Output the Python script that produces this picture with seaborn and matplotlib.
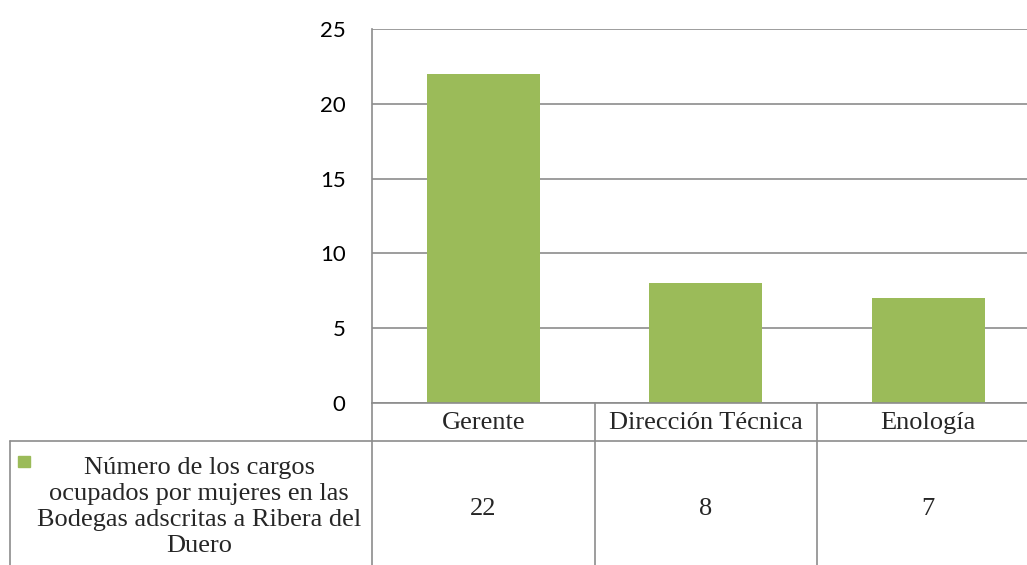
import matplotlib
matplotlib.use("Agg")
import matplotlib.pyplot as plt
import seaborn as sns
import pandas as pd
from matplotlib.patches import Rectangle

categories = ["Gerente", "Dirección Técnica", "Enología"]
values = [22, 8, 7]
series_name = "Número de los cargos\nocupados por mujeres en las\nBodegas adscritas a Ribera del\nDuero"
y_ticks = [0, 5, 10, 15, 20, 25]

bar_color = "#9BBB59"
line_color = "#8C8C8C"
serif = ["Liberation Serif", "DejaVu Serif"]

df = pd.DataFrame({"cargo": categories, "n": values})

sns.set_style("white")
plt.rcParams["font.family"] = ["Lato", "DejaVu Sans"]

fig = plt.figure(figsize=(10.27, 5.65), dpi=100)
ax = fig.add_axes([372 / 1027, 162 / 565, 667.5 / 1027, 374 / 565])

sns.barplot(data=df, x="cargo", y="n", color=bar_color, saturation=1,
            width=0.51, linewidth=0, ax=ax, zorder=3)

ax.set_ylim(0, 25)
ax.set_xlim(-0.5, len(categories) - 0.5)
ax.set_yticks(y_ticks)
ax.set_xticks([])
ax.set_xlabel("")
ax.set_ylabel("")
ax.tick_params(axis="y", length=0, pad=19, labelsize=16, labelcolor="#000000")
ax.grid(axis="y", color=line_color, linewidth=1.2, zorder=0)
for side in ["top", "right", "bottom"]:
    ax.spines[side].set_visible(False)
ax.spines["left"].set_color(line_color)
ax.spines["left"].set_linewidth(1.2)

# data table below the axis
px = 1 / 374.0
row1 = -38 * px
bottom = -170 * px
tr = ax.get_xaxis_transform()
lw = 1.2
fs = 19

# header row top (axis line at 0) and row separator
ax.plot([-0.5, len(categories) - 0.5], [0, 0], transform=tr, color=line_color,
        lw=lw, clip_on=False, zorder=4)
xl = -0.5 - 362 / 222.5
ax.plot([xl, len(categories) - 0.5], [row1, row1], transform=tr,
        color=line_color, lw=lw, clip_on=False)
# vertical column lines
for xb in [i - 0.5 for i in range(len(categories) + 1)]:
    ax.plot([xb, xb], [0, bottom], transform=tr, color=line_color, lw=lw,
            clip_on=False)
ax.plot([xl, xl], [row1, bottom], transform=tr, color=line_color, lw=lw,
        clip_on=False)

for i, (cat, v) in enumerate(zip(categories, values)):
    ax.text(i, -26 * px, cat, transform=tr, ha="center", va="baseline",
            fontsize=fs, family=serif)
    ax.text(i, -112 * px, str(v), transform=tr, ha="center", va="baseline",
            fontsize=fs, family=serif)

# legend cell
ax.text(-0.5 - 173 / 222.5, -104 * px, series_name, transform=tr, ha="center",
        va="center", fontsize=fs, family=serif, linespacing=1.24,
        multialignment="center")
ax.add_patch(Rectangle((-0.5 - 354 / 222.5, -64 * px), 12 / 222.5, 11 * px,
                       transform=tr, color=bar_color, clip_on=False))

fig.savefig("out.png", dpi=100)
